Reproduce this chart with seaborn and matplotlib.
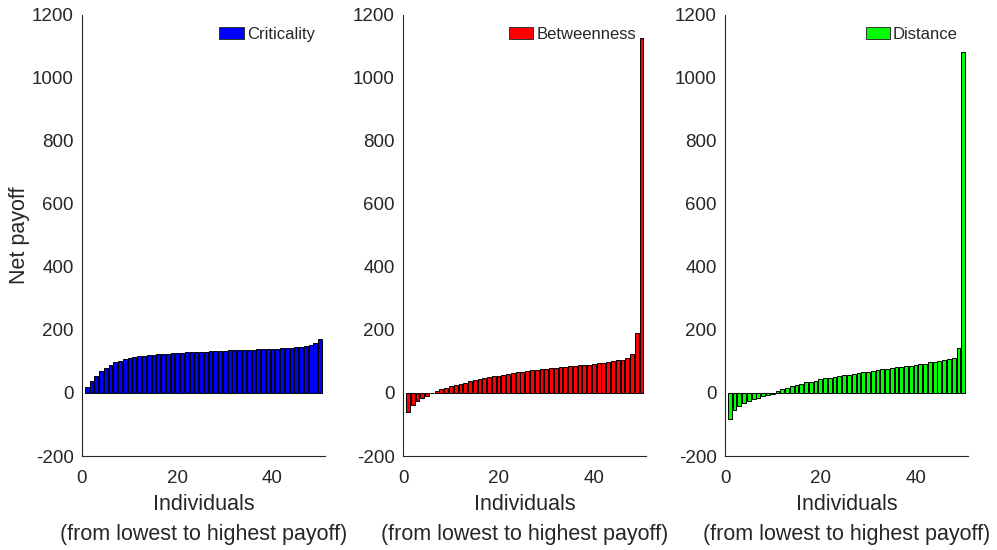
import numpy as np
import pandas as pd
import matplotlib
matplotlib.use("Agg")
import matplotlib.pyplot as plt
from matplotlib.patches import Patch
import seaborn as sns

# Net payoff per individual, sorted from lowest to highest, for each strategy
individuals = list(range(1, 51))

criticality = [18, 38, 55, 70, 79, 90, 98, 102, 107, 110,
               113, 116, 118, 120, 122, 123, 124, 125, 126, 127,
               128, 129, 130, 130, 131, 131, 132, 133, 134, 134,
               135, 135, 136, 136, 137, 137, 138, 138, 139, 140,
               141, 142, 143, 144, 145, 147, 149, 152, 159, 171]

betweenness = [-60, -39, -26, -17, -10, 0, 6, 13, 16, 21,
               25, 30, 33, 38, 40, 43, 46, 50, 53, 55,
               58, 60, 62, 65, 67, 70, 72, 74, 75, 77,
               78, 80, 81, 82, 84, 86, 88, 89, 90, 92,
               94, 95, 98, 101, 104, 104, 110, 124, 191, 1127]

distance = [-82, -55, -42, -33, -25, -20, -16, -11, -5, -2,
            5, 11, 15, 21, 25, 30, 34, 35, 39, 43,
            47, 49, 52, 54, 56, 57, 60, 63, 66, 67,
            69, 72, 75, 76, 78, 81, 83, 85, 87, 89,
            91, 93, 97, 98, 100, 103, 107, 110, 143, 1082]

series_names = ["Criticality", "Betweenness", "Distance"]
series_values = [criticality, betweenness, distance]
series_colors = ["#0000ff", "#ff0000", "#00ff00"]

y_ticks = [-200, 0, 200, 400, 600, 800, 1000, 1200]
x_ticks = [0, 20, 40]

sns.set_style("white")
plt.rcParams["font.family"] = ["Liberation Sans", "DejaVu Sans"]

axis_color = "#262626"
fig = plt.figure(figsize=(9.97, 5.5), dpi=100)

lefts = [0.0822, 0.4045, 0.7272]
for left, name, vals, col in zip(lefts, series_names, series_values, series_colors):
    ax = fig.add_axes([left, 0.1709, 0.2437, 0.8024])
    df = pd.DataFrame({"individual": individuals, "payoff": vals})
    sns.barplot(data=df, x="individual", y="payoff", native_scale=True,
                width=0.8, color=col, saturation=1, edgecolor="black",
                linewidth=0.7, errorbar=None, ax=ax)
    ax.set_xlim(0, 51)
    ax.set_ylim(-200, 1200)
    ax.set_xticks(x_ticks)
    ax.set_yticks(y_ticks)
    ax.set_xticklabels([str(t) for t in x_ticks])
    ax.set_yticklabels([str(t) for t in y_ticks])
    ax.tick_params(axis="both", direction="in", length=3.5, width=0.8,
                   colors=axis_color, labelsize=13.5)
    ax.tick_params(axis="x", pad=10)
    ax.tick_params(axis="y", pad=6)
    for side in ["top", "right"]:
        ax.spines[side].set_visible(False)
    for side in ["left", "bottom"]:
        ax.spines[side].set_color(axis_color)
        ax.spines[side].set_linewidth(0.8)
    ax.set_xlabel("Individuals\n(from lowest to highest payoff)",
                  fontsize=15.5, color=axis_color, linespacing=1.6, labelpad=5)
    ax.set_ylabel("Net payoff" if name == "Criticality" else "",
                  fontsize=15.5, color=axis_color, labelpad=1)
    ax.legend(handles=[Patch(facecolor=col, edgecolor="#333333", linewidth=0.7, label=name)],
              loc="upper right", frameon=False, fontsize=12,
              handlelength=1.45, handleheight=0.75, handletextpad=0.2,
              borderaxespad=0.2, bbox_to_anchor=(1.0, 0.995))

fig.savefig("out.png", dpi=100)
